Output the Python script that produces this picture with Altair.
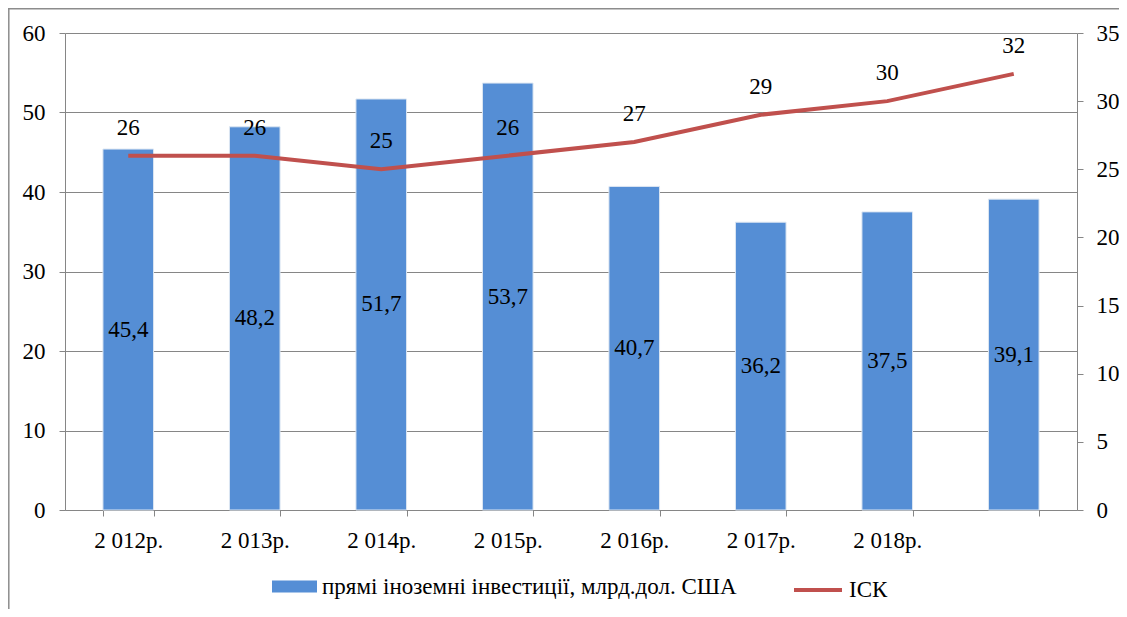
import altair as alt
import pandas as pd

years = ["2 012р.", "2 013р.", "2 014р.", "2 015р.", "2 016р.", "2 017р.", "2 018р.", ""]
fdi = [45.4, 48.2, 51.7, 53.7, 40.7, 36.2, 37.5, 39.1]
isk = [26, 26, 25, 26, 27, 29, 30, 32]
fdi_labels = ["45,4", "48,2", "51,7", "53,7", "40,7", "36,2", "37,5", "39,1"]
bar_name = "прямі іноземні інвестиції, млрд.дол. США"
line_name = "ІСК"

FONT = "Liberation Serif"
FS = 23
GRID = "#868686"
BAR_C = "#558ED5"
LINE_C = "#C0504D"
FRAME_C = "#8c8c8c"

W, H = 1012, 477

df = pd.DataFrame({
    "year": years,
    "fdi": fdi,
    "isk": isk,
    "fdi_label": fdi_labels,
    "s1": [bar_name] * len(years),
    "s2": [line_name] * len(years),
})

xenc = alt.X(
    "year:N",
    sort=years,
    scale=alt.Scale(paddingInner=0.6, paddingOuter=0.3),
    axis=alt.Axis(
        title=None, labelAngle=0, tickBand="extent", domainColor=GRID, tickColor=GRID,
        tickSize=6, labelPadding=13, labelFont=FONT, labelFontSize=FS, labelColor="black",
        grid=False,
    ),
)

base = alt.Chart(df)

bars = base.mark_bar(stroke="#DCE6F2", strokeWidth=1).encode(
    x=xenc,
    y=alt.Y(
        "fdi:Q",
        scale=alt.Scale(domain=[0, 60]),
        axis=alt.Axis(
            title=None, orient="left", values=[0, 10, 20, 30, 40, 50, 60], grid=True,
            gridColor=GRID, gridWidth=1, domainColor=GRID, tickColor=GRID, tickSize=6,
            labelPadding=14, labelFont=FONT, labelFontSize=FS, labelColor="black",
        ),
    ),
    color=alt.Color(
        "s1:N",
        scale=alt.Scale(domain=[bar_name], range=[BAR_C]),
        legend=alt.Legend(
            title=None, orient="none", legendX=207, legendY=531,
            symbolType="M-1,-0.267L1,-0.267L1,0.267L-1,0.267Z", symbolSize=2025,
            symbolStrokeWidth=0, labelFont=FONT, labelFontSize=FS, labelColor="black",
            labelOffset=5, labelLimit=700,
        ),
    ),
)

bar_text = base.mark_text(font=FONT, fontSize=FS, color="black").transform_calculate(
    mid="datum.fdi / 2"
).encode(
    x=alt.X("year:N", sort=years),
    y=alt.Y("mid:Q"),
    text="fdi_label:N",
)

left = alt.layer(bars, bar_text)

line = base.mark_line(strokeWidth=4, color=LINE_C).encode(
    x=alt.X("year:N", sort=years),
    y=alt.Y(
        "isk:Q",
        scale=alt.Scale(domain=[0, 35]),
        axis=alt.Axis(
            title=None, orient="right", values=[0, 5, 10, 15, 20, 25, 30, 35], grid=False,
            domainColor=GRID, tickColor=GRID, tickSize=6, labelPadding=13,
            labelFont=FONT, labelFontSize=FS, labelColor="black",
        ),
    ),
    stroke=alt.Stroke(
        "s2:N",
        scale=alt.Scale(domain=[line_name], range=[LINE_C]),
        legend=alt.Legend(
            title=None, orient="none", legendX=727, legendY=531,
            symbolType="stroke", symbolSize=2304, symbolStrokeWidth=4,
            labelFont=FONT, labelFontSize=FS, labelColor="black", labelOffset=5,
        ),
    ),
)

line_text = base.mark_text(font=FONT, fontSize=FS, color="black", dy=-28).encode(
    x=alt.X("year:N", sort=years),
    y=alt.Y("isk:Q"),
    text="isk:Q",
)

right = alt.layer(line, line_text)

frame_df = pd.DataFrame({"k": ["frame"]})
frame_left = alt.Chart(frame_df).mark_rule(color=FRAME_C, strokeWidth=1.5).encode(
    x=alt.value(-56.2), y=alt.value(-25), y2=alt.value(H + 200)
)
frame_top = alt.Chart(frame_df).mark_rule(color=FRAME_C, strokeWidth=1.5).encode(
    x=alt.value(-57), x2=alt.value(W + 200), y=alt.value(-24.2)
)

chart = alt.layer(left, right, frame_left, frame_top).resolve_scale(
    y="independent", color="independent", stroke="independent"
).resolve_legend(color="independent", stroke="independent").properties(
    width=W, height=H,
    padding={"left": 57, "top": 25, "right": 42, "bottom": 99},
    autosize=alt.AutoSizeParams(type="none"),
    background="white",
).configure_view(stroke=None)

chart.save("out.html", embed_options={"renderer": "svg", "actions": False})
